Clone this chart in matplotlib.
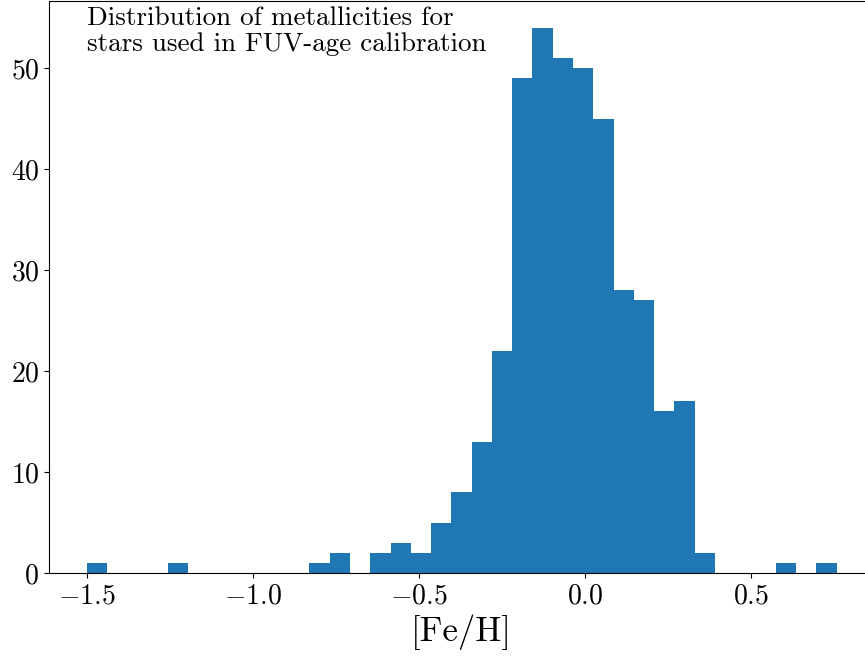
import numpy as np
import matplotlib
matplotlib.use('Agg')
import matplotlib.pyplot as plt

plt.rcParams['font.family'] = 'serif'
plt.rcParams['font.serif'] = ['cmr10']
plt.rcParams['mathtext.fontset'] = 'cm'
plt.rcParams['axes.formatter.use_mathtext'] = True

# histogram de [Fe/H]: 37 bins entre min y max
feh_min = -1.50
feh_max = 0.758
n_bins = 37
counts = [1, 0, 0, 0, 1, 0, 0, 0, 0, 0, 0, 1, 2, 0, 2, 3, 2, 5, 8, 13,
          22, 49, 54, 51, 50, 45, 28, 27, 16, 17, 2, 0, 0, 0, 1, 0, 1]

edges = np.linspace(feh_min, feh_max, n_bins + 1)

fig = plt.figure(figsize=(8.65, 6.6), dpi=100)
ax = fig.add_axes([49 / 865, 1 - 573 / 660, 825 / 865, 572.5 / 660])

ax.bar(edges[:-1], counts, width=np.diff(edges), align='edge', color='#1f77b4', linewidth=0)

ax.spines['right'].set_visible(False)
ax.set_xlabel('[Fe/H]', fontsize=25, labelpad=4)
ax.tick_params(labelsize=20)
ax.set_yticks([0, 10, 20, 30, 40, 50])
ax.set_xticks([-1.5, -1.0, -0.5, 0.0, 0.5])

ax.text(0.046, 0.99, 'Distribution of metallicities for\nstars used in FUV-age calibration',
        transform=ax.transAxes, fontsize=19.5, va='top', ha='left', linespacing=1.12)

fig.savefig('out.png', dpi=100)
